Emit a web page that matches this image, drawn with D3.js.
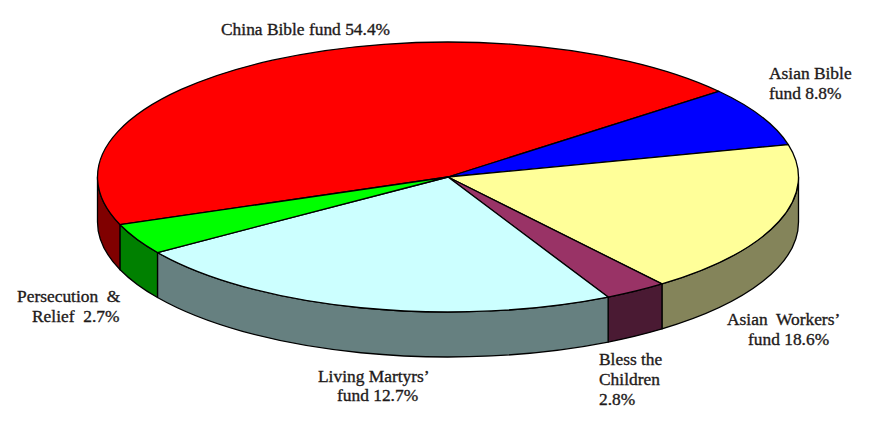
<!DOCTYPE html>
<html>
<head>
<meta charset="utf-8">
<script src="https://cdn.jsdelivr.net/npm/d3@7/dist/d3.min.js"></script>
<style>
  html, body { margin: 0; padding: 0; background: #fff; }
  svg { display: block; }
  text { font-family: "Liberation Serif", "DejaVu Serif", serif; font-size: 17.4px; fill: #1e1a1a;
         stroke: #1e1a1a; stroke-width: 0.35px; }
</style>
</head>
<body>
<svg id="chart" width="876" height="425"></svg>
<script>
// ---- data ----
const categories = ["China Bible fund", "Asian Bible fund", "Asian Workers’ fund",
                    "Bless the Children", "Living Martyrs’ fund", "Persecution & Relief"];
// percentages printed on the labels
const labelPercents = [54.4, 8.8, 18.6, 2.8, 12.7, 2.7];
// slice sizes as actually drawn in the picture (share of the full circle, %)
const drawnShares = [44.8, 7.1, 18.4, 2.9, 23.1, 3.7];
// label text lines (percent appended from labelPercents)
const labelLines = [
  ["China Bible fund {p}"],
  ["Asian Bible", "fund {p}"],
  ["Asian  Workers’", "fund {p}"],
  ["Bless the", "Children", "{p}"],
  ["Living Martyrs’", "fund {p}"],
  ["Persecution  &", "Relief  {p}"]
];
const topColors  = ["#ff0000", "#0000ff", "#ffff99", "#993366", "#ccffff", "#00ff00"];
const sideColors = ["#800000", "#00007f", "#84845a", "#4a1a33", "#668080", "#008000"];

// ---- layout ----
const cx = 448, cy = 177, rx = 350.5, ry = 135, depth = 45;
const startDeg = 249.3;
const labelPos = [
  {x: 221, y: 35, lh: 20},
  {x: 769, y: 79, lh: 20},
  {x: 727, y: 325, lh: 20, shifts: [0, 21]},
  {x: 599, y: 365, lh: 20},
  {x: 318, y: 382, lh: 19, shifts: [0, 19]},
  {x: 17,  y: 302, lh: 20, shifts: [0, 15]}
];

const svg = d3.select("#chart");
const toRad = d => d * Math.PI / 180;
const pie = d3.pie().sort(null).value(d => d)
  .startAngle(toRad(startDeg)).endAngle(toRad(startDeg + 360));
const arcs = pie(drawnShares);

const pt = (a, dy = 0) => [cx + rx * Math.sin(a), cy - ry * Math.cos(a) + dy];

function topPath(a0, a1) {
  const p0 = pt(a0), p1 = pt(a1);
  const large = (a1 - a0) > Math.PI ? 1 : 0;
  return `M${cx},${cy}L${p0[0]},${p0[1]}A${rx},${ry} 0 ${large} 1 ${p1[0]},${p1[1]}Z`;
}
function sidePath(s, e) {
  const p0 = pt(s), p1 = pt(e), q1 = pt(e, depth), q0 = pt(s, depth);
  const large = (e - s) > Math.PI ? 1 : 0;
  return `M${p0[0]},${p0[1]}A${rx},${ry} 0 ${large} 1 ${p1[0]},${p1[1]}` +
         `L${q1[0]},${q1[1]}A${rx},${ry} 0 ${large} 0 ${q0[0]},${q0[1]}Z`;
}

// visible side segments: angles where the rim faces the viewer (pi/2..3pi/2 mod 2pi)
const sides = [];
arcs.forEach((d, i) => {
  for (let k = -1; k <= 2; k++) {
    const lo = Math.PI / 2 + 2 * Math.PI * k, hi = 3 * Math.PI / 2 + 2 * Math.PI * k;
    const s = Math.max(d.startAngle, lo), e = Math.min(d.endAngle, hi);
    if (e - s > 1e-6) sides.push({i, s, e});
  }
});

const g = svg.append("g");
g.selectAll("path.side").data(sides).join("path")
  .attr("class", "side")
  .attr("d", d => sidePath(d.s, d.e))
  .attr("fill", d => sideColors[d.i])
  .attr("stroke", "#000").attr("stroke-width", 1.3).attr("stroke-linejoin", "round");

g.selectAll("path.top").data(arcs).join("path")
  .attr("class", "top")
  .attr("d", d => topPath(d.startAngle, d.endAngle))
  .attr("fill", (d, i) => topColors[i])
  .attr("stroke", "#000").attr("stroke-width", 1.3).attr("stroke-linejoin", "round");

// labels
const fmt = v => d3.format(".1f")(v) + "%";
labelLines.forEach((lines, i) => {
  const p = labelPos[i];
  const t = svg.append("text").attr("x", p.x).attr("y", p.y);
  lines.forEach((ln, j) => {
    t.append("tspan")
      .attr("x", p.x + (p.shifts ? (p.shifts[j] || 0) : 0))
      .attr("y", p.y + j * p.lh)
      .attr("xml:space", "preserve")
      .style("white-space", "pre")
      .text(ln.replace("{p}", fmt(labelPercents[i])));
  });
});
</script>
</body>
</html>
